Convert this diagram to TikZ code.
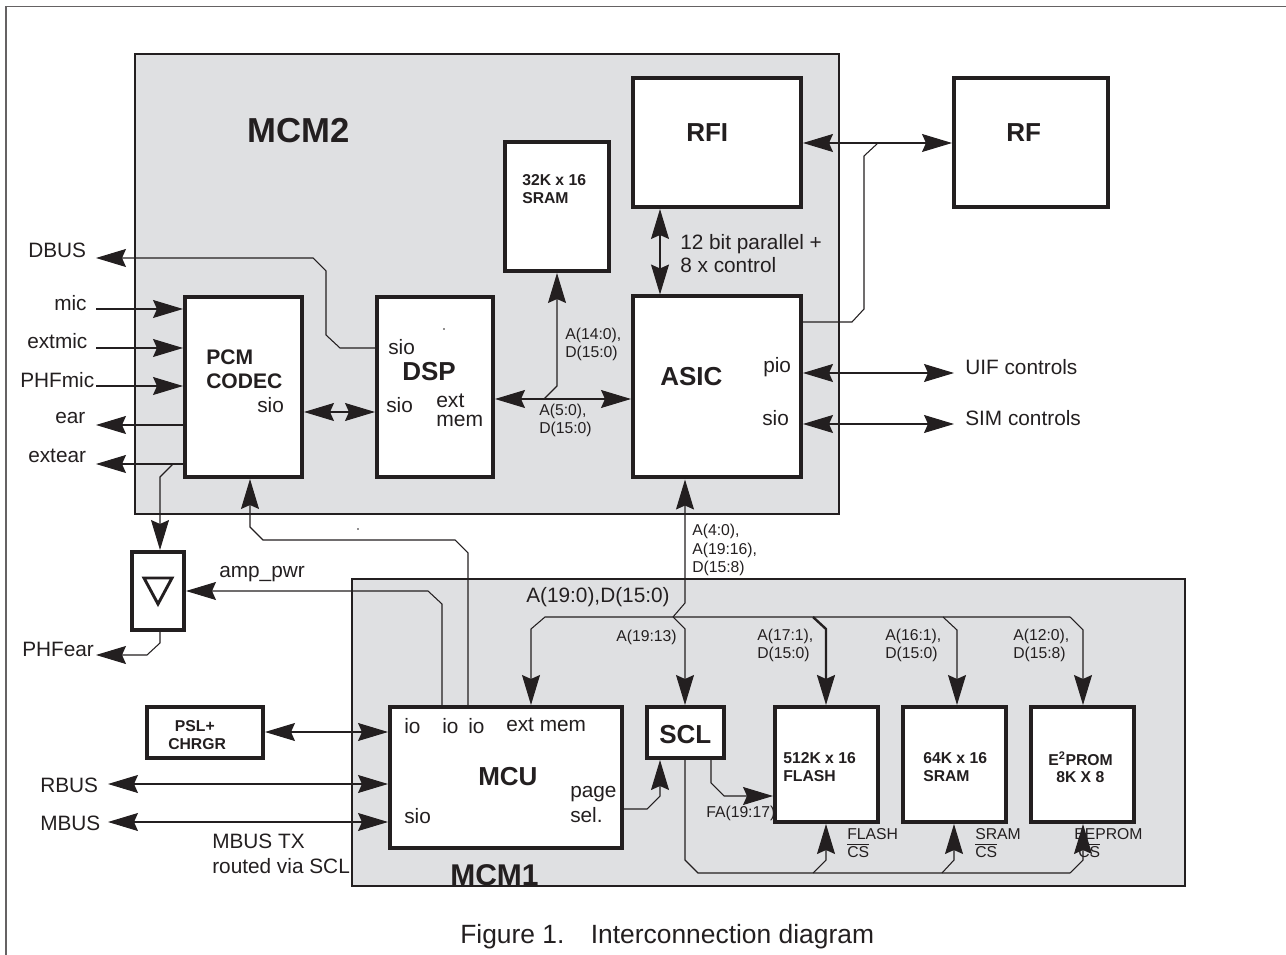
\documentclass[tikz,border=0pt]{standalone}
\usepackage{fontspec}
\setmainfont{Liberation Sans}
\usepackage{xcolor}
\usetikzlibrary{arrows.meta,positioning}
\definecolor{mcmgrey}{RGB}{223,224,226}
\definecolor{inkdark}{RGB}{35,31,32}
\begin{document}
\begin{tikzpicture}[x=0.75pt,y=-0.75pt,>={Stealth[length=22.5pt,width=13.5pt,inset=3pt]},every node/.style={text=inkdark,inner sep=0pt,anchor=west},line join=miter]
\tikzstyle{blk}=[draw=inkdark,fill=white,line width=3pt,anchor=center]
\tikzstyle{wire}=[draw=inkdark,line width=0.8pt]
\tikzstyle{mcm}=[draw=inkdark,fill=mcmgrey,line width=0.8pt]
\tikzstyle{lab}=[font=\fontsize{15.6}{18.75}\selectfont,align=left]
\tikzstyle{tiny}=[font=\fontsize{11.8}{13.6}\selectfont,align=left]
\tikzstyle{memtxt}=[font=\fontsize{11.8}{13}\selectfont\bfseries,align=left]
\tikzstyle{big}=[font=\fontsize{19.5}{22}\selectfont\bfseries]
\useasboundingbox (0,0) rectangle (1286,955);
% page frame
\draw[draw=inkdark!70,line width=1pt] (6,955) -- (6,6.5) -- (1286,6.5);
% shaded modules
\path[mcm] (135,54) rectangle (839,514);
\path[mcm] (352,579) rectangle (1185,886);
\node[tiny] (fatxt) at (706,813) {FA(19:17)};
% blocks
\foreach \n/\x/\y/\w/\h in {pcm/243.5/387/117/180,dsp/435/387/116/180,asic/717/387/168/181,rfi/717/142.5/168/129,sramA/557/206.5/104/129,rf/1031/142.5/154/129,amp/158/591/52/78,psl/205/732.5/116/51,mcu/506/777.5/232/141,scl/685.5/732.5/77/51,flash/826.5/764.5/103/115,sramB/954.5/764.5/103/115,eeprom/1082.5/764.5/103/115}{\node[blk,minimum width=\w*0.75pt,minimum height=\h*0.75pt] (\n) at (\x,\y) {};}
\draw[inkdark,line width=2.2pt,line join=miter] (144,578) -- (172,578) -- (158,604) -- cycle;
% specks
\fill[inkdark] (358,529) circle (0.6pt);
\fill[inkdark] (444,329) circle (0.6pt);
% free ends on the left and right
\foreach \n/\y in {mic/309,extmic/348,phfmic/386}{\coordinate (\n) at (96,\y);\draw[wire,->] (\n) -- (\n-|pcm.west);}
\foreach \n/\y in {ear/425,extear/464}{\coordinate (\n) at (96,\y);\draw[wire,<-] (\n) -- (\n-|pcm.west);}
\coordinate (dbus) at (96,258);
\coordinate (dsphi) at (340,348);
\draw[wire,<-] (dbus) -- (313,258) -- (326,271) -- (326,335) -- (dsphi) -- (dsphi-|dsp.west);
\coordinate (ampfeed) at (160,477);
\draw[wire,->] (173,464) -- (ampfeed) -- (ampfeed|-amp.north);
\coordinate (phfear) at (96,655);
\coordinate (phfdown) at (160,643);
\draw[wire,->] (amp.south-|phfdown) -- (phfdown) -- (147,655) -- (phfear);
\coordinate (pcmsio) at (302,412);
\draw[wire,<->] (pcmsio-|pcm.east) -- (pcmsio-|dsp.west);
% ext mem bus and sram
\coordinate (extbus) at (493,399);
\coordinate (srup) at (557,386);
\draw[wire,<->] (extbus-|dsp.east) -- (extbus-|asic.west);
\draw[wire,->] (544,399) -- (srup) -- (srup|-sramA.south);
% rfi and rf
\coordinate (rfbus) at (801,143);
\coordinate (rfdrop) at (864,156);
\coordinate (asicout) at (852,322);
\draw[wire,<->] (rfbus-|rfi.east) -- (rfbus-|rf.west);
\draw[wire] (878,143) -- (rfdrop) -- (864,309) -- (asicout) -- (asicout-|asic.east);
\coordinate (par) at (660,250);
\draw[wire,<->] (par|-rfi.south) -- (par|-asic.north);
\foreach \n/\y in {uif/373,sim/424}{\coordinate (\n) at (954,\y);\draw[wire,<->] (\n-|asic.east) -- (\n);}
% mcu to pcm and amp
\coordinate (iotwo) at (468,553);
\coordinate (pcmup) at (250,527);
\draw[wire,->] (mcu.north-|iotwo) -- (iotwo) -- (455,540) -- (263,540) -- (pcmup) -- (pcmup|-pcm.south);
\coordinate (ioone) at (442,604);
\coordinate (amptap) at (428,591);
\draw[wire,->] (mcu.north-|ioone) -- (ioone) -- (amptap) -- (amptap-|amp.east);
\coordinate (pslbus) at (263,732);
\draw[wire,<->] (pslbus-|psl.east) -- (pslbus-|mcu.west);
\foreach \n/\y in {rbus/784,mbus/822}{\coordinate (\n) at (108,\y);\draw[wire,<->] (\n) -- (\n-|mcu.west);}
% memory bus
\coordinate (asicbus) at (685,603);
\coordinate (mcubus) at (531,629);
\coordinate (sclbus) at (685,629);
\coordinate (flbus) at (826,629);
\coordinate (srbus) at (957,630);
\coordinate (eebus) at (1083,630);
\draw[wire,->] (673,617) -- (asicbus) -- (asicbus|-asic.south);
\draw[wire,->] (1070,617) -- (545,617) -- (mcubus) -- (mcubus|-mcu.north);
\draw[wire,->] (1070,617) -- (eebus) -- (eebus|-eeprom.north);
\draw[wire,->] (673,617) -- (sclbus) -- (sclbus|-scl.north);
\draw[wire,->,line width=1.8pt] (813,617) -- (flbus) -- (flbus|-flash.north);
\draw[wire,->] (943,617) -- (srbus) -- (srbus|-sramB.north);
% page select and flash address
\coordinate (pagesel) at (647,809);
\coordinate (pageup) at (660,796);
\draw[wire,->] (pagesel-|mcu.east) -- (pagesel) -- (pageup) -- (pageup|-scl.south);
\coordinate (fadown) at (711,783);
\coordinate (faout) at (724,796);
\draw[wire,->] (scl.south-|fadown) -- (fadown) -- (faout) -- (faout-|flash.west);
% chip selects
\node[tiny] (fcstxt) at (847,843) {FLASH\\$\overline{\mbox{CS}}$};
\node[tiny] (scstxt) at (975,843) {SRAM\\$\overline{\mbox{CS}}$};
\node[tiny] (ecstxt) at (1074,843) {EEPROM\\\hspace*{3pt}$\overline{\mbox{CS}}$};
\coordinate (csdown) at (685,860);
\coordinate (flcs) at (826,860);
\coordinate (srcs) at (954,860);
\coordinate (eecs) at (1083,860);
\draw[wire] (scl.south-|csdown) -- (csdown) -- (698,873) -- (1070,873);
\draw[wire,->] (813,873) -- (flcs) -- (flcs|-flash.south);
\draw[wire,->] (942,873) -- (srcs) -- (srcs|-sramB.south);
\draw[wire,->] (1070,873) -- (eecs) -- (eecs|-eeprom.south);
% outside labels
\node[lab] (dbustxt) at (28,250) {DBUS};
\node[lab] (mictxt) at (54,303) {mic};
\node[lab] (extmictxt) at (27,341) {extmic};
\node[lab] (phfmictxt) at (20,380) {PHFmic};
\node[lab] (eartxt) at (55,418) {ear};
\node[lab] (exteartxt) at (28,456) {extear};
\node[lab] (phfeartxt) at (22,649) {PHFear};
\node[lab] (rbustxt) at (40,785) {RBUS};
\node[lab] (mbustxt) at (40,823) {MBUS};
\node[lab] (amptxt) at (219,574) {amp\_pwr};
\node[lab] (routetxt) at (212,854) {MBUS TX\\routed via SCL};
\node[lab] (uiftxt) at (965,367) {UIF controls};
\node[lab] (simtxt) at (965,418) {SIM controls};
\node[font=\fontsize{15.6}{17.25}\selectfont,align=left] (partxt) at (680,253.5) {12 bit parallel +\\8 x control};
\node[lab] (bustxt) at (526,597) {A(19:0),D(15:0)};
% block texts
\node[font=\fontsize{26}{30}\selectfont\bfseries] (mcmtwo) at (247,131) {MCM2};
\node[font=\fontsize{22.5}{26}\selectfont\bfseries] (mcmone) at (450,875) {MCM1};
\node[font=\fontsize{15.8}{18}\selectfont\bfseries,align=left] (pcmtxt) at (206,369) {PCM\\CODEC};
\node[lab] (pcmsiotxt) at (257,405) {sio};
\node[lab] (dspsioa) at (388,347) {sio};
\node[lab] (dspsiob) at (386,405) {sio};
\node[big] (dsptxt) at (402,372) {DSP};
\node[font=\fontsize{15.8}{14}\selectfont,align=left] (dspmem) at (436,410) {ext\\mem};
\node[big] (asictxt) at (660,377) {ASIC};
\node[lab] (piotxt) at (763,367) {pio};
\node[lab] (asicsio) at (762,418) {sio};
\node[big] (rfitxt) at (686,133) {RFI};
\node[big] (rftxt) at (1006,133) {RF};
\node[big] (scltxt) at (659,735) {SCL};
\node[big] (mcutxt) at (478,777) {MCU};
\node[memtxt] (sramatxt) at (522,189) {32K x 16\\SRAM};
\node[memtxt] (psltxt) at (168,735) {\hspace*{5pt}PSL+\\CHRGR};
\node[memtxt] (flashtxt) at (783,767) {512K x 16\\FLASH};
\node[memtxt] (sramtxt) at (923,767) {64K x 16\\SRAM};
\node[memtxt] (eetxt) at (1048,767) {E\textsuperscript{2}PROM\\\hspace*{6pt}8K X 8};
\node[lab] (ioa) at (404,726) {io};
\node[lab] (iob) at (442,726) {io};
\node[lab] (ioc) at (468,726) {io};
\node[lab] (extmem) at (506,725) {ext mem};
\node[lab] (mcusio) at (404,816) {sio};
\node[lab] (pagetxt) at (570,804.5) {page\\sel.};
% bus labels
\node[tiny] (asrama) at (565,344) {A(14:0),\\D(15:0)};
\node[tiny] (aext) at (539,420) {A(5:0),\\D(15:0)};
\node[tiny] (aasic) at (692,550) {A(4:0),\\A(19:16),\\D(15:8)};
\node[tiny] (ascl) at (616,637) {A(19:13)};
\node[tiny] (aflash) at (757,645) {A(17:1),\\D(15:0)};
\node[tiny] (asram) at (885,645) {A(16:1),\\D(15:0)};
\node[tiny] (aee) at (1013,645) {A(12:0),\\D(15:8)};
% caption
\node[font=\fontsize{19.8}{22}\selectfont] (figtxt) at (460,937) {Figure 1.\hspace{1em}Interconnection diagram};
\end{tikzpicture}
\end{document}
